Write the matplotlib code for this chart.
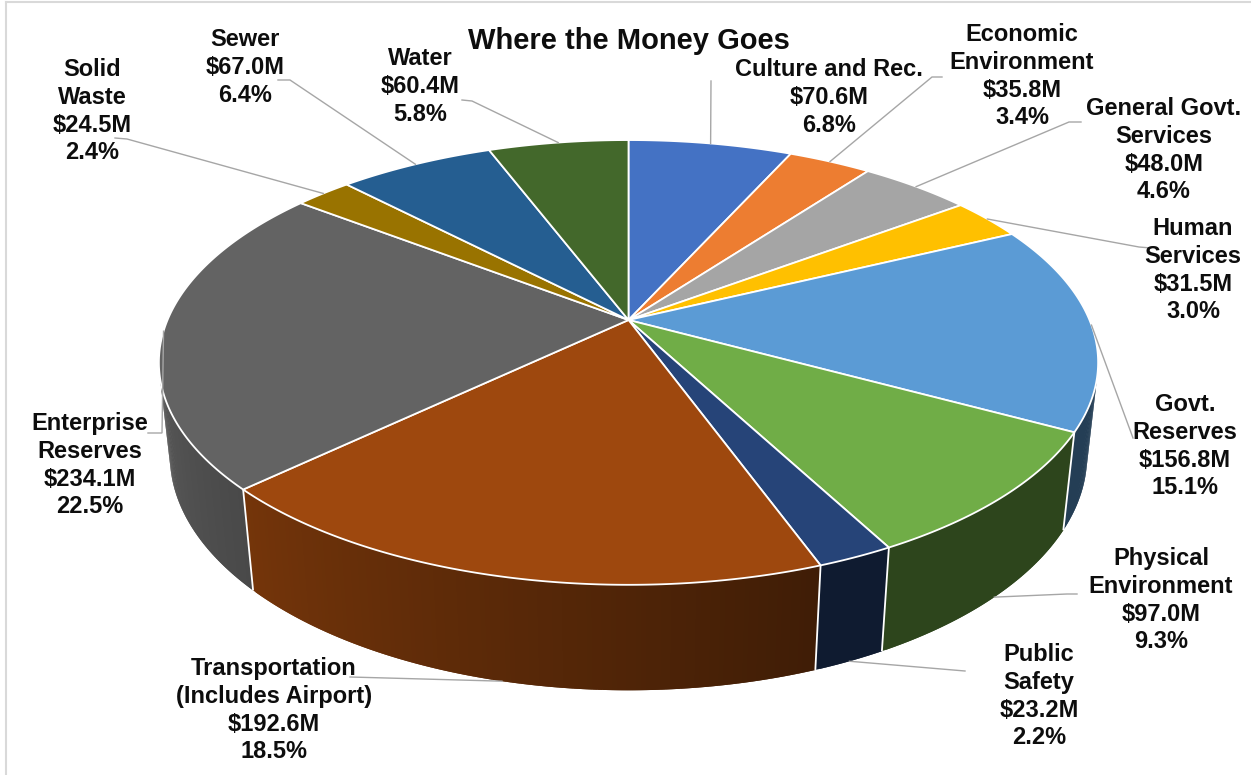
import numpy as np
import matplotlib
matplotlib.use("Agg")
import matplotlib.pyplot as plt
from matplotlib.patches import Polygon
from matplotlib.collections import PolyCollection, LineCollection
from matplotlib.colors import to_rgb

# ---- data ----
categories = ["Culture and Rec.", "Economic\nEnvironment", "General Govt.\nServices",
              "Human\nServices", "Govt.\nReserves", "Physical\nEnvironment",
              "Public\nSafety", "Transportation\n(Includes Airport)",
              "Enterprise\nReserves", "Solid\nWaste", "Sewer", "Water"]
amounts = [70.6, 35.8, 48.0, 31.5, 156.8, 97.0, 23.2, 192.6, 234.1, 24.5, 67.0, 60.4]
colors = ["#4472C4", "#ED7D31", "#A5A5A5", "#FFC000", "#5B9BD5", "#70AD47",
          "#264478", "#9E480E", "#636363", "#997300", "#255E91", "#43682B"]
title = "Where the Money Goes"

# ---- label layout (pixel positions: centre x, first-line centre y) ----
label_pos = [(829, 68), (1022, 33), (1164, 107), (1193, 227), (1185, 403),
             (1161, 557), (1039, 653), (274, 667), (90, 422), (92, 68),
             (245, 38), (420, 57)]
leader_ends = [[(711, 81)], [(942, 77), (932, 77)], [(1081, 122), (1069, 122)],
               [(1151, 248), (1139, 247)], [(1133, 438)], [(1077, 594), (1067, 594)],
               [(965, 671)], [(350, 677)], [(148, 433), (162, 433)],
               [(115, 138), (127, 139)], [(278, 80), (290, 80)], [(462, 100), (472, 101)]]

W, H = 1251, 775
fig = plt.figure(figsize=(W / 100, H / 100), dpi=100)
ax = fig.add_axes([0, 0, 1, 1])
ax.set_xlim(0, W)
ax.set_ylim(H, 0)
ax.axis("off")

# ---- perspective camera for the 3-D pie ----
CX, CY = 628.5, 320.0
FOCAL = 2139.0
DIST = 4.64
ELEV = np.radians(27.7)
THICK = 0.23
ce, se = np.cos(ELEV), np.sin(ELEV)


def project(t, z=0.0, r=1.0):
    X = r * np.cos(t)
    Y = r * np.sin(t)
    depth = Y * ce - z * se + DIST
    return CX + FOCAL * X / depth, CY - FOCAL * (Y * se + z * ce) / depth


vals = np.array(amounts)
total = vals.sum()
cum = np.concatenate([[0], np.cumsum(vals)]) / total
bounds = np.radians(90.0 - 360.0 * cum)   # clockwise from 12 o'clock
mids = 0.5 * (bounds[:-1] + bounds[1:])

# visible part of the outer wall (front side)
s0 = np.arcsin(1.0 / (DIST * ce))
vis_lo, vis_hi = -np.pi + s0, -s0


def shade(t):
    deg = np.degrees(t)
    return 0.40 + 0.48 * np.clip((-70.0 - deg) / 95.0, 0, 1)


# ---- outer walls with shading ----
for i in range(len(vals)):
    a0, a1 = bounds[i], bounds[i + 1]
    lo, hi = max(a1, vis_lo), min(a0, vis_hi)
    if lo >= hi:
        continue
    n = max(3, int(np.degrees(hi - lo) * 2))
    ts = np.linspace(lo, hi, n)
    base = np.array(to_rgb(colors[i]))
    quads, fcs, segs = [], [], []
    for k in range(n - 1):
        # each strip overlaps the next one a little so no seams show
        k2 = min(k + 2, n - 1)
        xa, ya = project(ts[k], 0)
        xb, yb = project(ts[k2], 0)
        xc, yc = project(ts[k2], -THICK)
        xd, yd = project(ts[k], -THICK)
        quads.append([(xa, ya), (xb, yb), (xc, yc), (xd, yd)])
        c = np.clip(base * shade(0.5 * (ts[k] + ts[k + 1])), 0, 1)
        fcs.append(c)
    ax.add_collection(PolyCollection(quads, facecolors=fcs, edgecolors="none",
                                     linewidths=0, zorder=2))

# slice separators on the wall
for b in bounds:
    if vis_lo < b < vis_hi:
        x0, y0 = project(b, 0)
        x1, y1 = project(b, -THICK)
        ax.plot([x0, x1], [y0, y1], color="white", lw=1.3, zorder=3,
                solid_capstyle="butt")

# ---- top face ----
for i in range(len(vals)):
    a0, a1 = bounds[i], bounds[i + 1]
    n = max(4, int(np.degrees(a0 - a1) * 2))
    ts = np.linspace(a0, a1, n)
    xs, ys = project(ts, 0)
    pts = [(CX, CY)] + list(zip(xs, ys))
    ax.add_patch(Polygon(pts, closed=True, facecolor=colors[i],
                         edgecolor="white", lw=1.3, joinstyle="round", zorder=4))

# ---- leader lines ----
for i in range(len(vals)):
    m = mids[i]
    if vis_lo < m < vis_hi:
        ax_, ay_ = project(m, -THICK)
    else:
        ax_, ay_ = project(m, 0)
    pts = leader_ends[i] + [(ax_, ay_)]
    ax.plot([p[0] for p in pts], [p[1] for p in pts], color="#A6A6A6",
            lw=1.0, zorder=5, solid_joinstyle="miter")

# ---- data labels ----
LINE_STEP = 27.7
FONT = "Liberation Sans"
for i, name in enumerate(categories):
    pct = 100.0 * vals[i] / total
    lines = name.split("\n") + [f"${vals[i]:.1f}M", f"{pct:.1f}%"]
    x, y0 = label_pos[i]
    for k, line in enumerate(lines):
        ax.text(x, y0 + k * LINE_STEP + 8.2, line, ha="center", va="baseline",
                fontsize=17, fontweight="bold", family=FONT, color="#0D0D0D",
                zorder=6)

# ---- title ----
ax.text(629, 49, title, ha="center", va="baseline", fontsize=21,
        fontweight="bold", family=FONT, color="#0D0D0D", zorder=6)

# chart frame
ax.plot([6, 6], [2, H], color="#D9D9D9", lw=1.5, zorder=1)
ax.plot([6, W], [2, 2], color="#D9D9D9", lw=1.5, zorder=1)

fig.savefig("out.png", dpi=100)
